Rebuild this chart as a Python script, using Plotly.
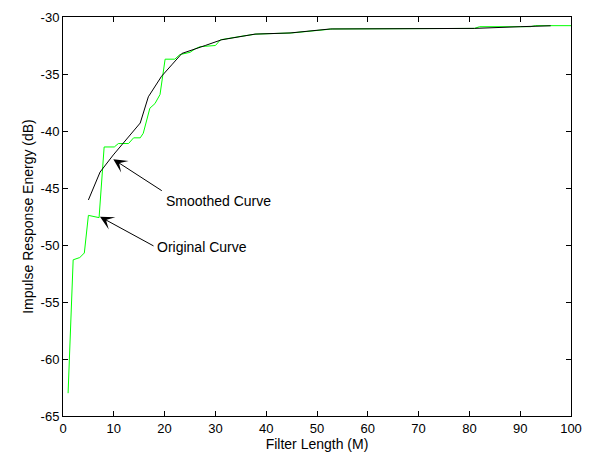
import plotly.graph_objects as go

# Original (stepwise) curve
orig_x = [1, 2, 3.3, 4.2, 5.0, 7.1, 8.1, 10.1, 10.9, 12.9, 13.9, 15.2, 15.8, 17.1, 18.1,
          19.1, 20.1, 22, 23, 25, 26, 27, 30, 31, 35, 38, 45, 47, 53, 81, 82, 92, 93, 100]
orig_y = [-63.0, -51.3, -51.1, -50.7, -47.4, -47.6, -41.4, -41.4, -41.1, -41.1, -40.6, -40.6,
          -40.2, -38.0, -37.6, -36.8, -33.7, -33.7, -33.3, -33.1, -32.8, -32.6, -32.5, -32.0,
          -31.7, -31.5, -31.4, -31.3, -31.05, -31.0, -30.85, -30.85, -30.76, -30.76]

# Smoothed curve
smooth_x = [5.0, 7.3, 9.9, 12.2, 15.2, 16.8, 19.4, 21.4, 23.4, 28, 31.2, 37.8, 44.7, 52.6, 81, 90, 96]
smooth_y = [-46.05, -43.6, -42.1, -40.9, -39.3, -37.0, -35.2, -34.2, -33.2, -32.5, -32.0,
            -31.5, -31.4, -31.05, -31.0, -30.85, -30.77]

x_ticks = [0, 10, 20, 30, 40, 50, 60, 70, 80, 90, 100]
y_ticks = [-65, -60, -55, -50, -45, -40, -35, -30]

FONT = "Liberation Sans, Arial, sans-serif"

fig = go.Figure()
fig.add_trace(go.Scatter(x=orig_x, y=orig_y, mode="lines",
                         line=dict(color="#00FF00", width=1), showlegend=False))
fig.add_trace(go.Scatter(x=smooth_x, y=smooth_y, mode="lines",
                         line=dict(color="black", width=1), showlegend=False))

# arrows (no text)
arrows = [
    dict(tip=(9.9, -42.48), tail=(19.74, -45.32)),
    dict(tip=(7.28, -47.52), tail=(18.11, -50.15)),
]
for a in arrows:
    fig.add_annotation(x=a["tip"][0], y=a["tip"][1], ax=a["tail"][0], ay=a["tail"][1],
                       xref="x", yref="y", axref="x", ayref="y", text="",
                       showarrow=True, arrowhead=3, arrowsize=2.3, arrowwidth=1,
                       arrowcolor="black", standoff=0)

labels = [("Smoothed Curve", 19.9, -46.1), ("Original Curve", 18.2, -50.2)]
for t, lx, ly in labels:
    fig.add_annotation(x=lx, y=ly, xref="x", yref="y", text=t, showarrow=False,
                       xanchor="left", yanchor="middle",
                       font=dict(family=FONT, size=14, color="black"))

axis_common = dict(showline=True, linecolor="black", linewidth=1, mirror="ticks",
                   ticks="inside", ticklen=5, tickcolor="black", showgrid=False,
                   zeroline=False, automargin=False,
                   tickfont=dict(family=FONT, size=13, color="black"))

fig.update_xaxes(range=[0, 100], tickvals=x_ticks, ticktext=[str(v) for v in x_ticks],
                 title=dict(text="Filter Length (M)", font=dict(family=FONT, size=14, color="black"),
                            standoff=1),
                 **axis_common)
fig.update_yaxes(range=[-65, -30], tickvals=y_ticks, ticktext=[str(v) for v in y_ticks],
                 title=dict(text="Impulse Response Energy (dB)",
                            font=dict(family=FONT, size=14, color="black"), standoff=3),
                 **axis_common)

fig.update_layout(width=590, height=458, margin=dict(l=63, r=19, t=17, b=42),
                  plot_bgcolor="white", paper_bgcolor="white",
                  font=dict(family=FONT, size=13, color="black"))

fig.write_html("out.html", config={"displayModeBar": False},
               post_script="document.body.style.margin='0';document.body.style.overflow='hidden';")
